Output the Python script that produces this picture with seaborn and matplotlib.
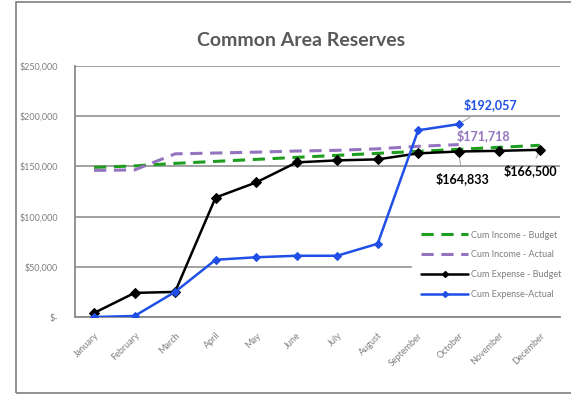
import numpy as np
import pandas as pd
import matplotlib
matplotlib.use("Agg")
import matplotlib.pyplot as plt
from matplotlib.patches import Rectangle
from matplotlib.lines import Line2D
import seaborn as sns

months = ['January', 'February', 'March', 'April', 'May', 'June', 'July',
          'August', 'September', 'October', 'November', 'December']
income_budget = [149000, 150500, 153000, 155000, 157000, 159000, 161000,
                 163000, 165000, 167000, 169000, 171000]
income_actual = [146000, 146500, 162500, 163300, 164200, 165300, 166000,
                 167500, 170000, 171718]
expense_budget = [4000, 24000, 25000, 119000, 134000, 154000, 156000,
                  157000, 163000, 164833, 165500, 166500]
expense_actual = [0, 1000, 25000, 57000, 59500, 61000, 61000, 73000,
                  186000, 192057]

sns.set_style("white")
plt.rcParams['font.family'] = ['Lato', 'DejaVu Sans']

fig = plt.figure(figsize=(5.71, 3.95), dpi=100)
ax = fig.add_axes([75 / 571, 1 - 317 / 395, 485 / 571, 251 / 395])

# outer chart border
fig.patches.append(Rectangle((16 / 571, 2 / 395), 1.2, 391 / 395, transform=fig.transFigure,
                             fill=False, edgecolor='#7f7f7f', linewidth=1.2))

green = '#1e9e1e'
purple = '#9474bf'
blue = '#1f4fe6'

idx = np.arange(len(months))
sns.lineplot(x=idx, y=income_budget, ax=ax, color=green, linewidth=2.2,
             linestyle=(0, (4, 2.5)), zorder=3)
sns.lineplot(x=idx[:len(income_actual)], y=income_actual, ax=ax, color=purple,
             linewidth=2.2, linestyle=(0, (4, 2.5)), zorder=3)
sns.lineplot(x=idx, y=expense_budget, ax=ax, color='black', linewidth=1.8,
             marker='D', markersize=5, markeredgecolor='black', zorder=4)
sns.lineplot(x=idx[:len(expense_actual)], y=expense_actual, ax=ax, color=blue,
             linewidth=1.8, marker='D', markersize=4, markeredgecolor=blue, zorder=4)

ax.set_xlim(-0.47, 11.5)
ax.set_ylim(0, 250000)
ax.set_yticks(range(0, 250001, 50000))
ax.set_yticklabels(['$-'] + ['${:,}'.format(v) for v in range(50000, 250001, 50000)],
                   fontsize=6.5, color='#7f7f7f')
ax.set_xticks(idx)
ax.set_xticklabels(months, rotation=45, ha='right', rotation_mode='anchor',
                   fontsize=6.5, color='#7f7f7f')
ax.tick_params(axis='x', length=0, pad=10)
ax.tick_params(axis='y', length=0, pad=12)
ax.yaxis.grid(True, color='#9a9a9a', linewidth=1.3, zorder=0)
ax.set_axisbelow(True)
for s in ['right', 'top']:
    ax.spines[s].set_visible(False)
for s in ['left', 'bottom']:
    ax.spines[s].set_color('#8a8a8a')
    ax.spines[s].set_linewidth(1.3)

fig.text(301 / 571, 1 - 40 / 395, 'Common Area Reserves', ha='center', va='center',
         fontsize=14, fontweight='bold', color='#595959')

lbl = dict(fontsize=9, fontweight='bold', ha='center', va='center')
arrow = dict(arrowstyle='-', color='#a0a0a0', linewidth=0.7)
ax.annotate('$192,057', xy=(9, expense_actual[9]), xytext=(9.78, 212000),
            color=blue, arrowprops=arrow, **lbl)
ax.annotate('$171,718', xy=(9, income_actual[9]), xytext=(9.6, 181000),
            color=purple, **lbl)
ax.annotate('$164,833', xy=(9, expense_budget[9]), xytext=(9.09, 138000),
            color='black', arrowprops=arrow, **lbl)
ax.annotate('$166,500', xy=(11, expense_budget[11]), xytext=(10.77, 146000),
            color='black', arrowprops=arrow, **lbl)

handles = [
    Line2D([], [], color=green, linewidth=2.2, linestyle=(0, (4, 2.5))),
    Line2D([], [], color=purple, linewidth=2.2, linestyle=(0, (4, 2.5))),
    Line2D([], [], color='black', linewidth=1.8, marker='D', markersize=3),
    Line2D([], [], color=blue, linewidth=1.8, marker='D', markersize=3),
]
names = ['Cum Income - Budget', 'Cum Income - Actual', 'Cum Expense - Budget', 'Cum Expense-Actual']
leg = ax.legend(handles, names, loc='upper left', bbox_to_anchor=(0.695, 0.38),
                fontsize=6.5, handlelength=5.2, handletextpad=0.3, labelspacing=1.2,
                frameon=True, facecolor='white', edgecolor='white', framealpha=1,
                borderpad=1.0, borderaxespad=0)
for t in leg.get_texts():
    t.set_color('#7f7f7f')

fig.savefig('out.png', dpi=100)
